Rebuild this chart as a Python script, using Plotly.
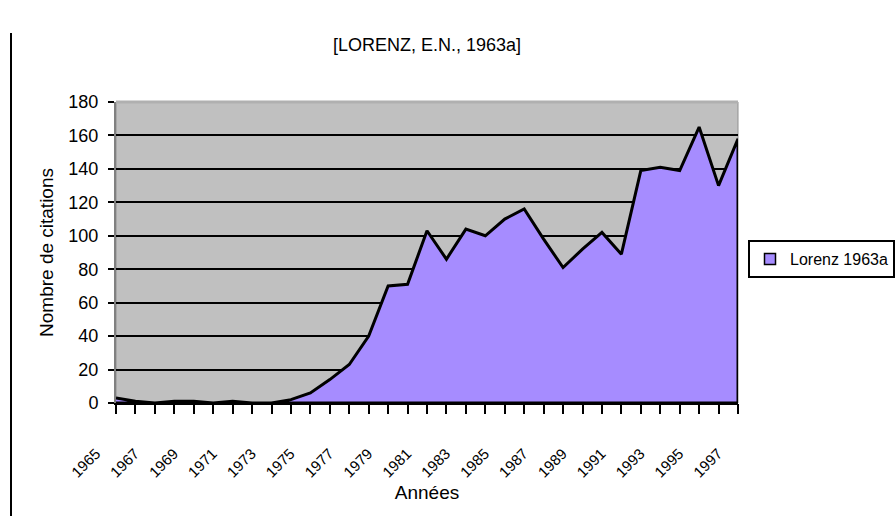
import plotly.graph_objects as go

# ---- data ----
years = list(range(1965, 1998))
citations = [3, 1, 0, 1, 1, 0, 1, 0, 0, 2,
             6, 14, 23, 40, 70, 71, 103, 86, 104, 100,
             110, 116, 98, 81, 92, 102, 89, 139, 141, 139,
             165, 130, 158]
x_tick_years = list(range(1965, 1998, 2))
x_tick_labels = [str(y) for y in x_tick_years]
y_tick_values = list(range(0, 181, 20))
y_tick_labels = [str(v) for v in y_tick_values]
series_name = "Lorenz 1963a"
chart_title = "[LORENZ, E.N., 1963a]"
x_title = "Années"
y_title = "Nombre de citations"

PURPLE = "#a68cff"
FONT = "Liberation Sans, Arial, sans-serif"

fig = go.Figure()
fig.add_trace(go.Scatter(
    x=years + [years[-1], years[0]],
    y=citations + [0, 0],
    mode="lines", fill="toself", fillcolor=PURPLE,
    line=dict(color="black", width=3),
    showlegend=False, hoverinfo="skip"))
fig.add_trace(go.Scatter(
    x=[None], y=[None], mode="markers", name=series_name, xaxis="x2",
    marker=dict(symbol="square", size=11, color=PURPLE,
                line=dict(color="black", width=1.5))))

fig.update_layout(
    width=896, height=516,
    margin=dict(l=116, r=158, t=102, b=113, autoexpand=False),
    paper_bgcolor="white", plot_bgcolor="#c0c0c0",
    font=dict(family=FONT, color="black"),
    title=dict(text=chart_title, font=dict(size=18, family=FONT),
               x=0.5, xref="paper", xanchor="center",
               y=1 - 45 / 516, yref="container", yanchor="middle"),
    xaxis=dict(range=[years[0], years[-1]], tickmode="array",
               tickvals=x_tick_years, ticktext=x_tick_labels,
               tickangle=-45, tickfont=dict(size=15),
               ticks="", ticklabelshift=-20, ticklabelstandoff=34,
               showline=True, linecolor="black", linewidth=2,
               showgrid=False, zeroline=False,
               title=dict(text=x_title, font=dict(size=19), standoff=6)),
    # tick marks for every year (no labels)
    xaxis2=dict(overlaying="x", anchor="y", side="bottom", matches="x",
                range=[years[0], years[-1]], tickmode="array",
                tickvals=years, showticklabels=False,
                ticks="outside", ticklen=10, tickwidth=2, tickcolor="black",
                showline=False, showgrid=False, zeroline=False),
    yaxis=dict(range=[0, 180], tickmode="array",
               tickvals=y_tick_values, ticktext=y_tick_labels,
               tickfont=dict(size=18),
               ticks="outside", ticklen=6, tickwidth=2, tickcolor="black",
               ticklabelstandoff=6,
               showgrid=True, gridcolor="black", gridwidth=2,
               showline=True, linecolor="#808080", linewidth=2,
               zeroline=False,
               title=dict(text=y_title, font=dict(size=19), standoff=10)),
    legend=dict(x=(748 - 116) / 622, xanchor="left",
                y=(403 - 240) / 301, yanchor="top",
                bgcolor="white", bordercolor="black", borderwidth=2,
                font=dict(size=16)),
    shapes=[
        dict(type="rect", xref="paper", yref="paper", x0=0, x1=1, y0=0, y1=1,
             line=dict(color="#909090", width=1), layer="below"),
        dict(type="line", xref="paper", yref="paper", x0=0, x1=1, y0=1, y1=1,
             line=dict(color="#b0b0b0", width=3), layer="above"),
        dict(type="line", xref="paper", yref="paper",
             x0=(11 - 116) / 622, x1=(11 - 116) / 622,
             y0=(403 - 520) / 301, y1=(403 - 33) / 301,
             line=dict(color="black", width=2)),
    ],
)

fig.write_html("out.html",
               config={"displayModeBar": False},
               post_script="document.body.style.margin='0';"
                           "document.body.style.overflow='hidden';")
